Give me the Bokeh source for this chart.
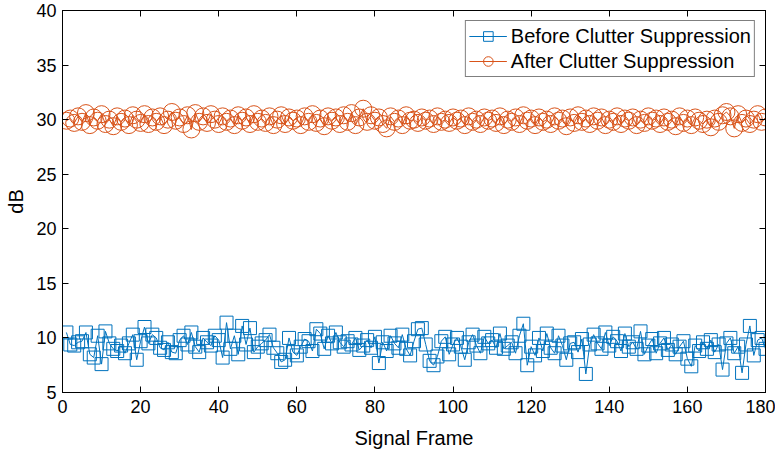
from bokeh.plotting import figure
from bokeh.models import LinearAxis, Range1d, FixedTicker, Legend, LegendItem
from bokeh.embed import file_html
from bokeh.resources import INLINE

frames = list(range(1, 181))

before = [
    10.5, 9.4, 9.3, 9.6, 9.7, 10.5, 8.5, 8.2, 10.2, 7.6,
    10.6, 9.5, 9.0, 8.8, 9.3, 8.6, 9.5, 10.3, 8.0, 9.7,
    11.0, 9.5, 10.3, 10.0, 9.1, 8.9, 9.6, 8.7, 8.6, 9.8,
    10.2, 9.4, 10.5, 9.2, 8.7, 10.0, 9.6, 9.3, 10.2, 9.8,
    8.2, 11.4, 9.0, 10.2, 8.5, 11.1, 9.4, 10.9, 8.7, 9.2,
    9.5, 9.8, 10.3, 9.1, 8.6, 7.8, 8.0, 10.0, 8.7, 8.4,
    9.2, 9.9, 9.7, 8.8, 10.8, 10.4, 9.0, 10.2, 9.5, 10.5,
    9.6, 9.2, 9.7, 9.4, 10.0, 8.9, 9.3, 9.8, 9.1, 10.1,
    7.7, 9.6, 8.8, 10.2, 9.5, 9.1, 10.3, 9.0, 8.4, 9.7,
    10.8, 10.9, 9.4, 7.9, 7.5, 8.3, 9.7, 10.1, 8.5, 9.4,
    10.0, 9.2, 8.0, 9.6, 10.3, 9.3, 8.6, 10.1, 9.5, 9.8,
    9.1, 10.4, 9.0, 9.3, 9.6, 8.6, 10.2, 11.3, 7.5, 9.2,
    8.4, 10.0, 8.8, 10.4, 9.1, 8.6, 10.2, 9.3, 8.0, 9.5,
    9.6, 8.7, 9.9, 6.7, 9.4, 10.3, 9.5, 9.0, 10.5, 9.3,
    10.1, 9.7, 8.8, 10.4, 9.2, 9.6, 9.0, 10.6, 8.5, 9.3,
    9.9, 8.6, 9.5, 10.0, 8.9, 9.4, 8.5, 9.2, 9.7, 8.1,
    7.4, 9.3, 8.8, 9.6, 9.0, 9.8, 8.7, 9.4, 7.1, 9.5,
    10.0, 8.6, 9.2, 6.8, 9.4, 11.1, 8.4, 9.8, 10.0, 9.0,
]

after = [
    29.9, 30.1, 29.7, 30.3, 29.8, 30.6, 29.5, 30.2, 29.9, 30.5,
    29.6, 30.0, 29.4, 30.3, 29.8, 30.1, 29.5, 30.4, 30.0, 29.7,
    30.5, 29.6, 30.2, 29.8, 30.3, 29.5, 30.0, 30.7, 29.9, 30.2,
    29.6, 30.4, 29.1, 30.6, 29.8, 30.3, 29.7, 30.5, 30.0, 29.6,
    30.3, 29.8, 30.1, 29.5, 30.4, 29.9, 30.2, 29.6, 30.5, 29.8,
    30.1, 29.7, 30.3, 29.5, 30.0, 30.4, 29.6, 30.2, 29.9, 30.1,
    29.5, 30.3, 29.8, 30.5, 29.7, 30.1, 29.4, 30.3, 29.9, 30.2,
    29.6, 30.4, 29.8, 30.6, 29.5, 30.2, 31.0, 29.8, 30.4, 29.9,
    30.2, 29.6, 29.2, 30.3, 29.8, 30.1, 29.5, 30.4, 29.9, 30.0,
    29.7, 30.2, 29.9, 30.1, 29.6, 30.3, 29.8, 30.0, 29.7, 30.2,
    29.9, 30.1, 29.5, 30.3, 29.8, 30.0, 29.6, 30.2, 29.9, 30.1,
    29.7, 30.3, 29.5, 30.0, 29.8, 30.2, 29.6, 30.4, 29.9, 30.1,
    29.5, 30.2, 29.8, 30.0, 29.6, 30.3, 29.9, 30.1, 29.4, 30.2,
    29.7, 30.4, 29.8, 30.1, 29.6, 30.3, 29.9, 30.2, 29.5, 30.0,
    29.8, 30.3, 29.6, 30.1, 29.9, 30.2, 29.5, 30.0, 29.7, 30.3,
    29.9, 30.1, 29.6, 30.2, 29.8, 30.0, 29.4, 30.3, 29.7, 30.1,
    29.5, 30.2, 29.9, 29.6, 30.0, 29.3, 30.1, 29.8, 30.4, 30.7,
    30.3, 29.2, 30.5, 29.7, 30.1, 29.6, 30.0, 30.5, 29.8, 30.2,
]

x_ticks = [0, 20, 40, 60, 80, 100, 120, 140, 160, 180]
y_ticks = [5, 10, 15, 20, 25, 30, 35, 40]

BLUE = "#0072BD"
ORANGE = "#D95319"
FONT = "Liberation Sans"

p = figure(width=775, height=459, output_backend="svg", toolbar_location=None,
           x_range=Range1d(0, 180), y_range=Range1d(5, 40),
           min_border_left=62, min_border_right=10, min_border_top=10,
           min_border_bottom=67)
p.xgrid.visible = False
p.ygrid.visible = False
p.outline_line_color = "black"
p.outline_line_width = 1
p.outline_line_alpha = 1.0

for ax, ticks in ((p.xaxis[0], x_ticks), (p.yaxis[0], y_ticks)):
    ax.ticker = FixedTicker(ticks=ticks)
    ax.major_tick_in = 6
    ax.major_tick_out = 0
    ax.minor_tick_line_color = None
    ax.axis_line_color = "black"
    ax.major_tick_line_color = "black"
    ax.major_label_text_font = FONT
    ax.major_label_text_font_size = "18px"
    ax.major_label_text_color = "black"
    ax.axis_label_text_font = FONT
    ax.axis_label_text_font_size = "20px"
    ax.axis_label_text_font_style = "normal"
    ax.axis_label_text_color = "black"

p.xaxis[0].major_label_standoff = 7
p.yaxis[0].major_label_standoff = 6
p.xaxis[0].axis_label = "Signal Frame"
p.yaxis[0].axis_label = "dB"
p.xaxis[0].axis_label_standoff = 11
p.yaxis[0].axis_label_standoff = 6

# mirrored ticks on top and right (box style), labels not drawn
for loc, ticks in (("above", x_ticks), ("right", y_ticks)):
    ax = LinearAxis(ticker=FixedTicker(ticks=ticks), major_tick_in=6, major_tick_out=0,
                    minor_tick_line_color=None, major_label_text_color=None,
                    major_label_text_font_size="1px", major_label_standoff=0,
                    axis_line_color="black", major_tick_line_color="black")
    p.add_layout(ax, loc)

l1 = p.line(frames, before, line_color=BLUE, line_width=1)
s1 = p.scatter(frames, before, marker="square", size=13, line_color=BLUE,
               fill_color=None, line_width=1)
l2 = p.line(frames, after, line_color=ORANGE, line_width=1)
s2 = p.scatter(frames, after, marker="circle", size=17, line_color=ORANGE,
               fill_color=None, line_width=1)

legend = Legend(items=[
    LegendItem(label="Before Clutter Suppression", renderers=[l1, s1]),
    LegendItem(label="After Clutter Suppression", renderers=[l2, s2]),
], location="top_right")
legend.label_text_font = FONT
legend.label_text_font_size = "20px"
legend.label_text_color = "black"
legend.border_line_color = "black"
legend.border_line_width = 1
legend.margin = 10
legend.padding = 3
legend.spacing = 1
legend.label_height = 24
legend.glyph_height = 24
legend.glyph_width = 38
legend.label_standoff = 4
legend.background_fill_alpha = 1.0
p.add_layout(legend, "center")

open("out.html", "w").write(file_html(p, INLINE))
